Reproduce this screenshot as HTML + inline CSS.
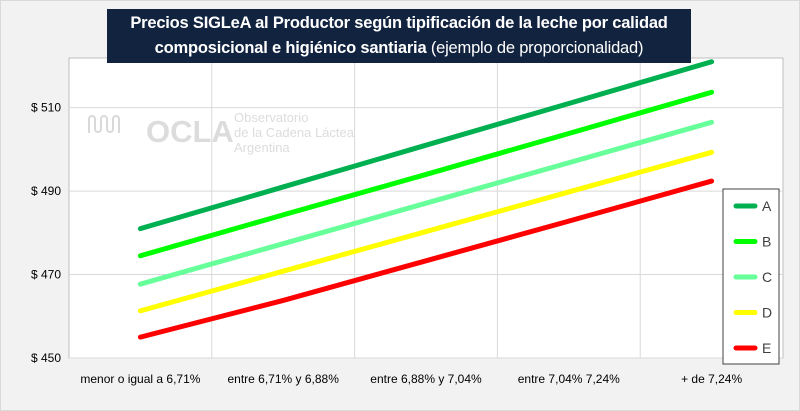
<!DOCTYPE html>
<html><head><meta charset="utf-8"><style>
body{margin:0;background:#f2f2f2;font-family:"Liberation Sans",sans-serif;}
#wrap{position:relative;width:800px;height:411px;overflow:hidden;background:#f2f2f2;box-sizing:border-box;border:1px solid #d9d9d9;}
#title{position:absolute;left:106px;top:8px;width:584px;height:54px;background:#12233f;color:#fff;font-size:16.5px;font-weight:bold;text-align:center;line-height:25px;padding-top:2px;box-sizing:border-box;letter-spacing:-0.2px;}
#title span{font-weight:normal}
</style></head><body>
<div id="wrap">
<svg id="chart" width="800" height="411" style="position:absolute;left:0;top:0"></svg>
<div id="title">Precios SIGLeA al Productor según tipificación de la leche por calidad<br>composicional e higiénico santiaria <span>(ejemplo de proporcionalidad)</span></div>
</div>
<script>
const categories=["menor o igual a 6,71%","entre 6,71% y 6,88%","entre 6,88% y 7,04%","entre 7,04% 7,24%","+ de 7,24%"];
const seriesNames=["A","B","C","D","E"];
const seriesA=[481,491,501,511,521];
const seriesB=[474.5,484.3,494,503.8,513.7];
const seriesC=[467.7,477.4,487.1,496.8,506.5];
const seriesD=[461.3,470.8,480.3,489.8,499.3];
const seriesE=[455,463.8,473.3,482.8,492.4];
const yTicks=[450,470,490,510];
const colors=["#00b050","#00ff00","#66ff99","#ffff00","#ff0000"];
const allSeries=[seriesA,seriesB,seriesC,seriesD,seriesE];
const NS="http://www.w3.org/2000/svg";
const svg=document.getElementById('chart');
const L=68,R=782,T=57,B=357,yMin=450,yMax=521.9;
const y=v=>B-(v-yMin)/(yMax-yMin)*(B-T);
const bw=(R-L)/categories.length;
const x=i=>L+bw*(i+0.5);
function mk(t,a){const e=document.createElementNS(NS,t);for(const k in a)e.setAttribute(k,a[k]);svg.appendChild(e);return e;}
let e=mk('rect',{x:L,y:T,width:R-L,height:B-T,fill:'#fff',stroke:'#bfbfbf'});


for(let i=1;i<categories.length;i++){e=mk('line',{x1:L+bw*i,x2:L+bw*i,y1:T,y2:B,stroke:'#d9d9d9'});

}
yTicks.forEach(v=>{e=mk('line',{x1:L,x2:R,y1:y(v),y2:y(v),stroke:'#d9d9d9'});


const t=mk('text',{x:60,y:y(v)+4,'text-anchor':'end','font-size':12,fill:'#000'});t.textContent='$ '+v;

});
categories.forEach((c,i)=>{const t=mk('text',{x:x(i),y:382,'text-anchor':'middle','font-size':12,fill:'#000'});t.textContent=c;

});
// watermark
const wm=mk('g',{fill:'#d4d4d4',opacity:0.8});


let p=document.createElementNS(NS,'path');p.setAttribute('d','M88 132 v-14 a3 3 0 0 1 6 0 v10 a3 3 0 0 0 6 0 v-10 a3 3 0 0 1 6 0 v10 a3 3 0 0 0 6 0 v-10 a3 3 0 0 1 6 0 v14');p.setAttribute('fill','none');p.setAttribute('stroke','#d0d0d0');p.setAttribute('stroke-width','2');wm.appendChild(p);
let t=document.createElementNS(NS,'text');t.setAttribute('x',145);t.setAttribute('y',141);t.setAttribute('font-size',31);t.setAttribute('font-weight','bold');t.textContent='OCLA';wm.appendChild(t);
[['Observatorio',125],['de la Cadena Láctea',140],['Argentina',155]].forEach(a=>{const s=document.createElementNS(NS,'text');s.setAttribute('x',233);s.setAttribute('y',a[1]-4);s.setAttribute('font-size',13);s.textContent=a[0];wm.appendChild(s);});
allSeries.forEach((s,k)=>{const pl=mk('polyline',{points:s.map((v,i)=>x(i)+','+y(v)).join(' '),fill:'none',stroke:colors[k],'stroke-width':5,'stroke-linecap':'round','stroke-linejoin':'round'});

});
// legend
e=mk('rect',{x:722,y:188,width:56,height:175,fill:'#fff',stroke:'#404040','stroke-width':1});


seriesNames.forEach((n,k)=>{const ly=205+k*35.5;
const l=mk('line',{x1:735,x2:754,y1:ly,y2:ly,stroke:colors[k],'stroke-width':5,'stroke-linecap':'round'});


const tx=mk('text',{x:761,y:ly+5,'font-size':14,fill:'#404040'});tx.textContent=n;

});
</script>
</body></html>
